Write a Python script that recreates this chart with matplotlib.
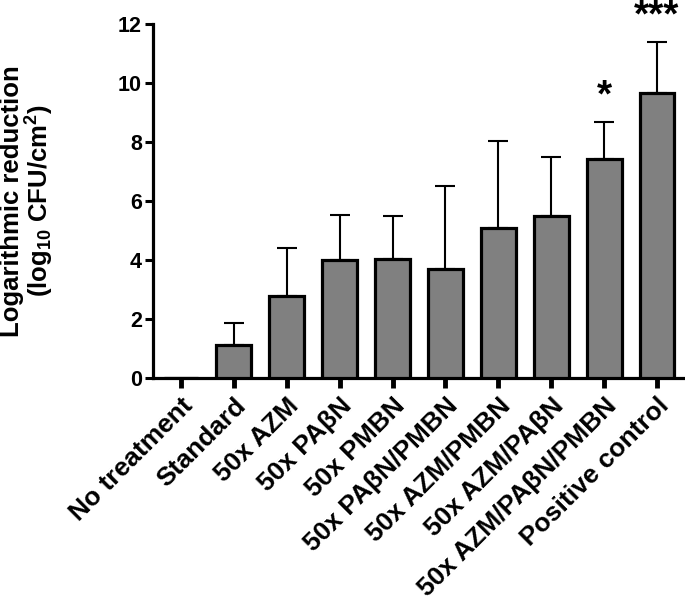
import matplotlib
matplotlib.use("Agg")
import matplotlib.pyplot as plt
import numpy as np

plt.rcParams['font.family'] = ['Liberation Sans', 'DejaVu Sans']
plt.rcParams['font.weight'] = 'bold'
plt.rcParams['mathtext.fontset'] = 'custom'
plt.rcParams['mathtext.rm'] = 'Liberation Sans:bold'
plt.rcParams['mathtext.bf'] = 'Liberation Sans:bold'
plt.rcParams['mathtext.default'] = 'bf'

categories = ["No treatment", "Standard", "50x AZM", "50x PAβN", "50x PMBN",
              "50x PAβN/PMBN", "50x AZM/PMBN", "50x AZM/PAβN",
              "50x AZM/PAβN/PMBN", "Positive control"]
means = [0.0, 1.12, 2.78, 4.00, 4.03, 3.68, 5.10, 5.49, 7.42, 9.67]
upper = [0.0, 1.85, 4.40, 5.52, 5.49, 6.51, 8.03, 7.50, 8.69, 11.38]
stars = ["", "", "", "", "", "", "", "", "*", "***"]
yticks = [0, 2, 4, 6, 8, 10, 12]

fig = plt.figure(figsize=(6.85, 6.03), dpi=100)
ax = fig.add_axes([153/685, (603-378)/603, (684-153)/685, 354/603])

x = np.arange(len(categories))
err = np.array(upper) - np.array(means)
err[0] = 0
ax.bar(x, means, width=0.66, color='#808080', edgecolor='black', linewidth=2.3, zorder=3)
ax.errorbar(x[1:], means[1:], yerr=[np.zeros(len(x)-1), err[1:]], fmt='none',
            ecolor='black', elinewidth=1.5, capsize=7, capthick=1.5, zorder=2)

for xi, s, u in zip(x, stars, upper):
    if s:
        ax.text(xi, u + 0.25, s, ha='center', va='bottom', fontsize=28,
                fontweight='bold', clip_on=False)

ax.set_xlim(-0.53, 9.51)
ax.set_ylim(0, 12)
ax.set_yticks(yticks)
ax.set_yticklabels([str(t) for t in yticks], fontsize=15.5, fontweight='bold')
ax.set_xticks(x)
ax.set_xticklabels(categories, rotation=45, ha='right', rotation_mode='anchor',
                   fontsize=19, fontweight='bold')
ax.tick_params(axis='y', length=6, width=2.2, pad=2)
ax.tick_params(axis='x', length=7, width=3.5, pad=4)

for side in ['top', 'right']:
    ax.spines[side].set_visible(False)
for side in ['left', 'bottom']:
    ax.spines[side].set_linewidth(2.3)

ax.set_ylabel("Logarithmic reduction\n(log$_{10}$ CFU/cm$^{2}$)", fontsize=18.5,
              fontweight='bold', va='center', linespacing=1.0)
ax.yaxis.set_label_coords(-0.236, 0.5)

fig.savefig("out.png", dpi=100)
